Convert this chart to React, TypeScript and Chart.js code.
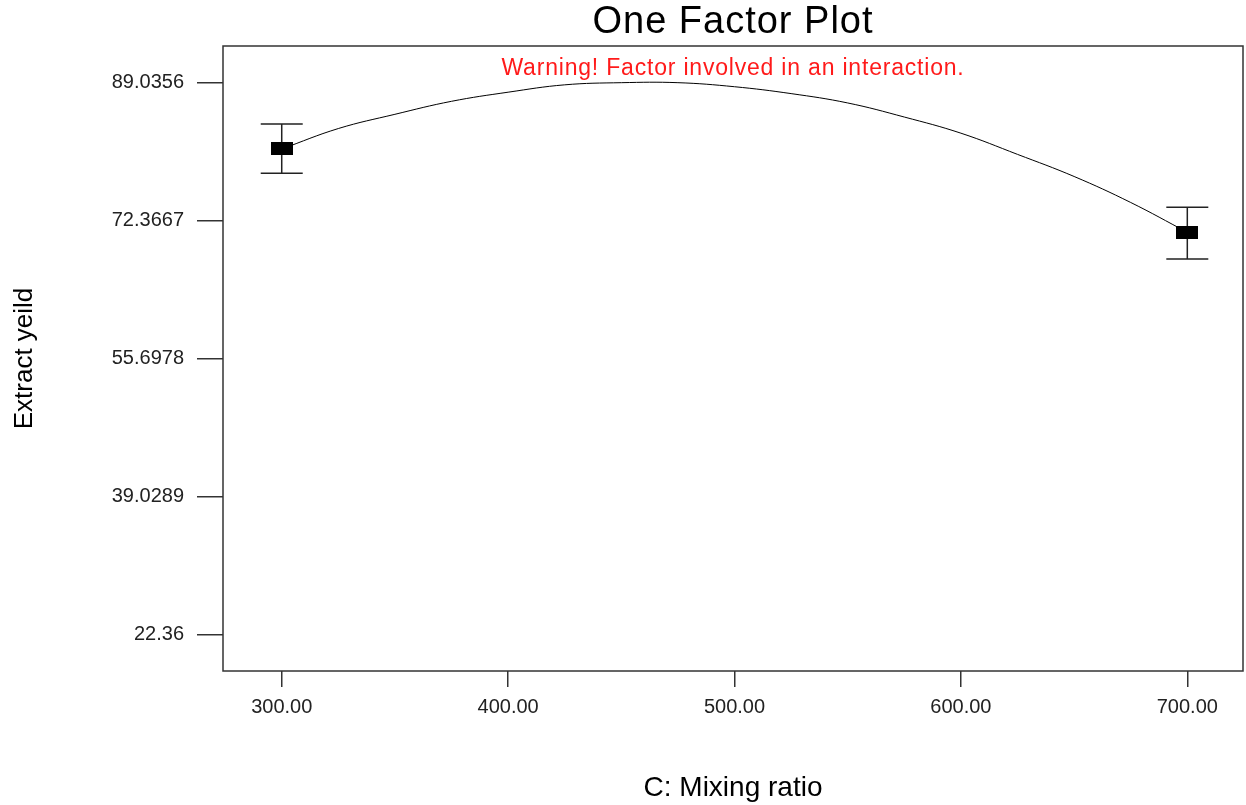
import React, { useEffect, useRef } from "react";
import { Chart, registerables } from "chart.js";

Chart.register(...registerables);

// Model curve for extract yield versus mixing ratio
const curveX = [300, 325, 350, 375, 400, 425, 450, 475, 500, 525, 550, 575, 600, 625, 650, 675, 700];
const curveY = [80.98, 83.45, 85.17, 86.74, 87.84, 88.73, 88.99, 88.99, 88.5, 87.67, 86.54, 84.84, 82.89, 80.33, 77.66, 74.52, 70.92];

// Design points with their confidence bands
const pointX = [300, 700];
const pointY = [80.98, 70.92];
const pointLow = [78.04, 67.69];
const pointHigh = [84.0, 73.94];

const xTickValues = [300, 400, 500, 600, 700];
const yTickValues = [22.36, 39.0289, 55.6978, 72.3667, 89.0356];
const yTickLabels = ["22.36", "39.0289", "55.6978", "72.3667", "89.0356"];

const titleText = "One Factor Plot";
const warningText = "Warning! Factor involved in an interaction.";

const FONT = "'Liberation Sans', Arial, Helvetica, sans-serif";

function makeMarker(): HTMLCanvasElement {
  const c = document.createElement("canvas");
  c.width = 22;
  c.height = 13;
  const g = c.getContext("2d")!;
  g.fillStyle = "#000";
  g.fillRect(0, 0, 22, 13);
  return c;
}

const frameAndNotes = {
  id: "frameAndNotes",
  beforeDatasetsDraw(chart: any) {
    const { ctx, scales } = chart;
    const xs = scales.x;
    const ys = scales.y;
    ctx.save();
    // error bars around each design point
    ctx.strokeStyle = "#222";
    ctx.lineWidth = 1.5;
    for (let i = 0; i < pointX.length; i++) {
      const px = xs.getPixelForValue(pointX[i]);
      const lo = ys.getPixelForValue(pointLow[i]);
      const hi = ys.getPixelForValue(pointHigh[i]);
      ctx.beginPath();
      ctx.moveTo(px, lo);
      ctx.lineTo(px, hi);
      ctx.moveTo(px - 21, lo);
      ctx.lineTo(px + 21, lo);
      ctx.moveTo(px - 21, hi);
      ctx.lineTo(px + 21, hi);
      ctx.stroke();
    }
    ctx.restore();
  },
  afterDraw(chart: any) {
    const { ctx, chartArea } = chart;
    const cx = (chartArea.left + chartArea.right) / 2;
    ctx.save();
    // plot frame
    ctx.strokeStyle = "#333";
    ctx.lineWidth = 1.5;
    ctx.strokeRect(chartArea.left, chartArea.top, chartArea.right - chartArea.left, chartArea.bottom - chartArea.top);
    ctx.textAlign = "center";
    ctx.textBaseline = "middle";
    // title
    ctx.fillStyle = "#000";
    ctx.font = `38px ${FONT}`;
    (ctx as any).letterSpacing = "1px";
    ctx.fillText(titleText, cx, chartArea.top - 23);
    // warning note
    ctx.fillStyle = "#ff1a1a";
    ctx.font = `23px ${FONT}`;
    (ctx as any).letterSpacing = "0.8px";
    ctx.fillText(warningText, cx, chartArea.top + 23);
    ctx.restore();
  },
};

export default function App() {
  const ref = useRef<HTMLCanvasElement | null>(null);

  useEffect(() => {
    if (!ref.current) return;
    const marker = makeMarker();
    const chart = new Chart(ref.current, {
      type: "scatter",
      data: {
        datasets: [
          {
            label: "Prediction",
            data: curveX.map((x, i) => ({ x, y: curveY[i] })),
            showLine: true,
            borderColor: "#000",
            borderWidth: 1,
            pointRadius: 0,
            tension: 0.4,
            order: 2,
          },
          {
            label: "Design points",
            data: pointX.map((x, i) => ({ x, y: pointY[i] })),
            showLine: false,
            pointStyle: marker as any,
            pointRadius: 11,
            order: 1,
          },
        ],
      },
      options: {
        responsive: false,
        animation: false,
        events: [],
        layout: { autoPadding: false, padding: { left: 0, right: 3, top: 46, bottom: 0 } },
        plugins: {
          legend: { display: false },
          tooltip: { enabled: false },
          title: { display: false },
        },
        scales: {
          x: {
            type: "linear",
            min: 274.06,
            max: 724.6,
            border: { display: false },
            grid: { drawOnChartArea: false, drawTicks: true, tickLength: 16, color: "#333", lineWidth: 1.5 },
            afterBuildTicks: (s: any) => {
              s.ticks = xTickValues.map((v) => ({ value: v }));
            },
            afterFit: (s: any) => {
              s.height = 134;
              s.paddingLeft = 0;
              s.paddingRight = 0;
            },
            ticks: {
              padding: 8,
              color: "#222",
              font: { family: FONT, size: 20 },
              maxRotation: 0,
              callback: (v: any) => Number(v).toFixed(2),
            },
            title: {
              display: true,
              text: "C: Mixing ratio",
              color: "#000",
              font: { family: FONT, size: 28 },
              padding: { top: 0, bottom: 0 },
            },
          },
          y: {
            type: "linear",
            min: 17.93,
            max: 93.42,
            border: { display: false },
            grid: { drawOnChartArea: false, drawTicks: true, tickLength: 26, color: "#333", lineWidth: 1.5 },
            afterBuildTicks: (s: any) => {
              s.ticks = yTickValues.map((v) => ({ value: v }));
            },
            afterFit: (s: any) => {
              s.width = 223;
              s.paddingTop = 0;
              s.paddingBottom = 0;
            },
            ticks: {
              padding: 13,
              color: "#222",
              font: { family: FONT, size: 20 },
              callback: (_v: any, i: number) => yTickLabels[i],
            },
            title: {
              display: true,
              text: "Extract yeild",
              color: "#000",
              font: { family: FONT, size: 26 },
              padding: { top: 9, bottom: 0 },
            },
          },
        },
      },
      plugins: [frameAndNotes],
    });
    return () => chart.destroy();
  }, []);

  return (
    <div style={{ position: "absolute", left: 0, top: 0, width: 1246, height: 805, background: "#fff" }}>
      <canvas ref={ref} width={1246} height={805} style={{ display: "block" }} />
    </div>
  );
}
